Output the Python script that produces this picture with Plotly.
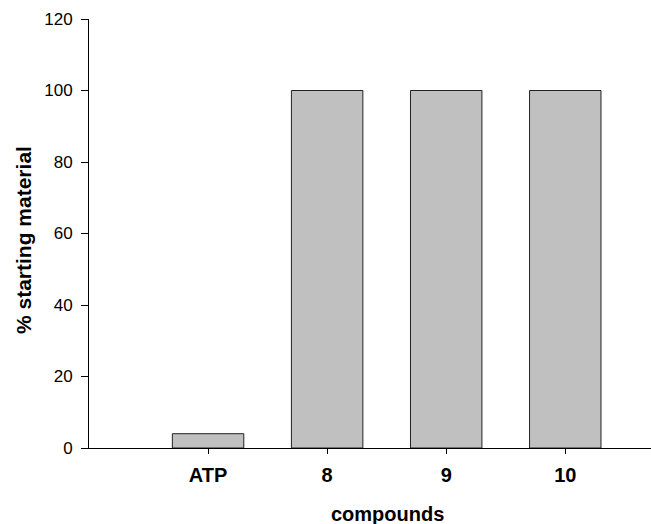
import plotly.graph_objects as go

categories = ["ATP", "8", "9", "10"]
positions = [1, 2, 3, 4]
values = [4, 100, 100, 100]
y_ticks = [0, 20, 40, 60, 80, 100, 120]

fig = go.Figure()
fig.add_trace(go.Bar(
    x=positions, y=values, width=0.6,
    marker=dict(color="#c0c0c0", line=dict(color="#222222", width=1)),
    showlegend=False,
))

font = "Liberation Sans, Arial, sans-serif"
L, R, T, B = 89, 0, 19, 76
W, H = 651, 524
fig.update_layout(
    width=W, height=H,
    margin=dict(l=L, r=R, t=T, b=B),
    paper_bgcolor="white", plot_bgcolor="white",
    font=dict(family=font, color="black"),
    xaxis=dict(
        range=[0, 4.72], tickmode="array", tickvals=positions, ticktext=categories,
        ticks="outside", ticklen=5, tickwidth=1, tickcolor="black",
        showline=True, linecolor="black", linewidth=1, showgrid=False, zeroline=False,
        tickfont=dict(size=20, family=font, weight="bold"), ticklabelstandoff=4,
    ),
    yaxis=dict(
        range=[0, 120], tickmode="array", tickvals=y_ticks,
        ticks="outside", ticklen=7, tickwidth=1, tickcolor="black",
        showline=True, linecolor="black", linewidth=1, showgrid=False, zeroline=False,
        tickfont=dict(size=17, family=font), ticklabelstandoff=5,
    ),
)

pw = W - L - R
ph = H - T - B
def px(x):
    return (x - L) / pw
def py(y):
    return (H - B - y) / ph

fig.add_annotation(text="<b>compounds</b>", x=px(387), y=py(514), xref="paper", yref="paper",
                   xanchor="center", yanchor="middle", showarrow=False,
                   font=dict(size=20, family=font))
fig.add_annotation(text="<b>% starting material</b>", x=px(23), y=py(240), xref="paper", yref="paper",
                   xanchor="center", yanchor="middle", textangle=-90, showarrow=False,
                   font=dict(size=21, family=font))

fig.write_html(
    "out.html",
    config={"displayModeBar": False},
    post_script=(
        "document.documentElement.style.margin='0';"
        "document.documentElement.style.overflow='hidden';"
        "document.body.style.margin='0';"
        "document.body.style.overflow='hidden';"
    ),
)
